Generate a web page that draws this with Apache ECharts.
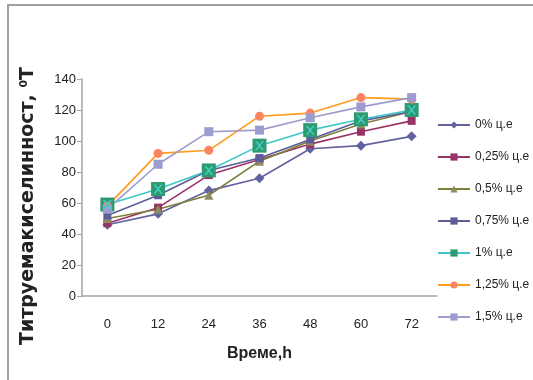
<!DOCTYPE html>
<html lang="bg">
<head>
    <meta charset="UTF-8">
    <title>Титруема киселинност</title>
    <style>
        html, body { margin: 0; padding: 0; background: #fff; }
        #chart { width: 533px; height: 380px; }
    </style>
</head>
<body>
<div id="chart"></div>
<script src="https://cdn.jsdelivr.net/npm/echarts@6/dist/echarts.min.js"></script>
<script>
    // време, h
    var hours = ['0', '12', '24', '36', '48', '60', '72'];

    // титруема киселинност по серии
    var s0 = [46, 53, 68, 76, 95, 97, 103];
    var s025 = [47, 57, 78, 88, 98, 106, 113];
    var s05 = [50, 56, 65, 87, 100, 111, 119];
    var s075 = [52, 65, 81, 89, 101, 113, 119];
    var s1 = [59, 69, 81, 97, 107, 114, 120];
    var s125 = [58, 92, 94, 116, 118, 128, 127];
    var s15 = [56, 85, 106, 107, 115, 122, 128];

    var names = ['0% ц.е', '0,25% ц.е', '0,5% ц.е', '0,75% ц.е', '1% ц.е', '1,25% ц.е', '1,5% ц.е'];

    var chart = echarts.init(document.getElementById('chart'));

    function line(name, data, color, symbol, size, markerColor) {
        return {
            name: name,
            type: 'line',
            data: data,
            symbol: symbol,
            symbolSize: size,
            showSymbol: true,
            animation: false,
            lineStyle: { color: color, width: 1.6 },
            itemStyle: { color: markerColor || color }
        };
    }

    var series = [
        line(names[0], s0, '#6262a0', 'diamond', 10),
        line(names[1], s025, '#993366', 'rect', 8),
        line(names[2], s05, '#7f7f3a', 'triangle', 9, '#8c8c60'),
        line(names[3], s075, '#5c5c98', 'rect', 8),
        line(names[4], s1, '#3cc8c8', 'rect', 14, '#2e9a70'),
        line(names[5], s125, '#ff9a1a', 'circle', 9, '#fb8563'),
        line(names[6], s15, '#9c9cd0', 'rect', 9)
    ];
    // X знак върху зелените квадрати
    series.push({
        type: 'line',
        data: s1,
        symbol: 'path://M0,0 L2,0 L5,3.5 L8,0 L10,0 L6,5 L10,10 L8,10 L5,6.5 L2,10 L0,10 L4,5 Z',
        symbolSize: 9,
        animation: false,
        silent: true,
        z: 5,
        lineStyle: { width: 0, opacity: 0 },
        itemStyle: { color: '#3fd0c8' }
    });

    var option = {
        backgroundColor: '#fff',
        grid: { left: 82, right: 96, top: 79, bottom: 84 },
        legend: {
            data: names,
            orient: 'vertical',
            left: 437,
            top: 119,
            padding: 0,
            itemWidth: 32,
            itemHeight: 9,
            itemGap: 20,
            textStyle: { fontFamily: 'Liberation Sans', fontSize: 12, color: '#222' }
        },
        xAxis: {
            type: 'category',
            data: hours,
            boundaryGap: true,
            axisLine: { lineStyle: { color: '#a6a6a6', width: 1.5 } },
            axisTick: { show: false },
            axisLabel: { margin: 22, fontFamily: 'Liberation Sans', fontSize: 13, color: '#222' },
            name: 'Време,h',
            nameLocation: 'middle',
            nameGap: 50,
            nameTextStyle: { fontFamily: 'Liberation Sans', fontWeight: 'bold', fontSize: 16, color: '#222' }
        },
        yAxis: {
            type: 'value',
            min: 0,
            max: 140,
            interval: 20,
            axisLine: { show: true, lineStyle: { color: '#a6a6a6', width: 1.5 } },
            axisTick: { show: true, length: 5, lineStyle: { color: '#a6a6a6' } },
            splitLine: { show: false },
            axisLabel: { margin: 6, fontFamily: 'Liberation Sans', fontSize: 13, color: '#222' }
        },
        graphic: [
            {
                type: 'rect',
                shape: { x: 8, y: 5, width: 700, height: 600 },
                style: { fill: 'none', stroke: '#a0a0a0', lineWidth: 2 },
                silent: true
            },
            {
                type: 'text',
                x: 28,
                y: 206,
                rotation: Math.PI / 2,
                style: {
                    text: 'Титруемакиселинност, {sup|0}Т',
                    fontFamily: 'DejaVu Sans',
                    fontWeight: 'bold',
                    fontSize: 19,
                    fill: '#222',
                    align: 'center',
                    verticalAlign: 'middle',
                    rich: {
                        sup: { fontSize: 11, fontWeight: 'bold', fontFamily: 'DejaVu Sans', verticalAlign: 'top', fill: '#222' }
                    }
                }
            }
        ],
        series: series
    };

    chart.setOption(option);
</script>
</body>
</html>
